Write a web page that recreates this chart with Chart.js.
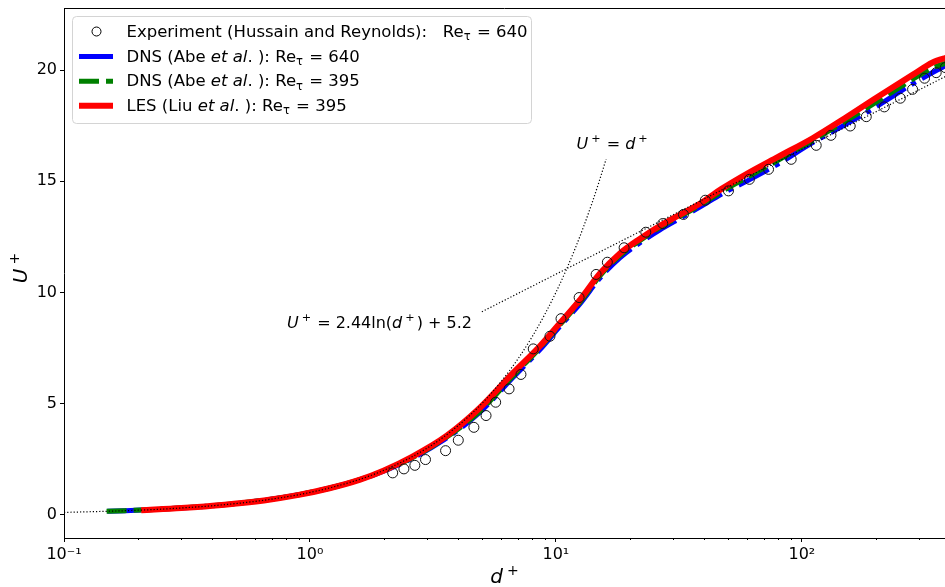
<!DOCTYPE html>
<html>
<head>
<meta charset="utf-8">
<script src="https://cdn.jsdelivr.net/npm/chart.js@4/dist/chart.umd.min.js"></script>
<style>
  html, body { margin: 0; padding: 0; background: #fff; }
  #wrap { width: 945px; height: 587px; }
</style>
</head>
<body>
<div id="wrap"><canvas id="c" width="945" height="587"></canvas></div>
<script>
// Experiment (Hussain and Reynolds), Re_tau = 640
const expD = [2.17, 2.41, 2.67, 2.95, 3.56, 4.01, 4.64, 5.20, 5.69, 6.45, 7.21, 8.09, 9.46, 10.49, 12.43,
              14.57, 16.19, 18.94, 23.2, 27.2, 33.0, 40.5, 50.3, 61.2, 73.2, 90.5, 114.4, 131.3, 157.3,
              182.8, 216.4, 251.4, 282, 315.5, 351.8, 383];
const expU = [1.88, 2.06, 2.22, 2.48, 2.88, 3.35, 3.93, 4.46, 5.06, 5.66, 6.31, 7.46, 8.03, 8.82, 9.77,
              10.81, 11.36, 12.01, 12.71, 13.10, 13.51, 14.15, 14.57, 15.09, 15.54, 15.99, 16.62, 17.07, 17.49,
              17.91, 18.35, 18.74, 19.14, 19.64, 19.89, 20.12];

// DNS (Abe et al.), Re_tau = 640
const dns640D = [0.15, 0.25, 0.4, 0.6, 0.9, 1.3, 1.8, 2.5, 3.5, 4.9, 6.7, 8.6, 10.4, 12.6, 15.1, 18.2,
                 22, 26.5, 32, 38.6, 47, 60, 80, 111, 150, 200, 283, 382, 500, 640];
const dns640U = [0.15, 0.25, 0.4, 0.6, 0.9, 1.29, 1.77, 2.44, 3.36, 4.6, 6.18, 7.42, 8.48, 9.52, 10.65, 11.56,
                 12.24, 12.82, 13.34, 13.85, 14.42, 15.02, 15.78, 16.75, 17.55, 18.35, 19.4, 20.2, 20.9, 21.5];

// DNS (Abe et al.), Re_tau = 395
const dns395D = [0.149, 0.25, 0.4, 0.6, 0.9, 1.3, 1.8, 2.5, 3.5, 4.9, 6.7, 8.6, 10.4, 12.6, 15.1, 18.2,
                 22, 26.5, 32, 38.6, 47, 60, 80, 111, 150, 200, 283, 340, 392];
const dns395U = [0.149, 0.25, 0.4, 0.6, 0.9, 1.29, 1.78, 2.46, 3.4, 4.65, 6.25, 7.5, 8.55, 9.6, 10.75, 11.66,
                 12.34, 12.93, 13.43, 13.93, 14.52, 15.18, 15.95, 16.85, 17.7, 18.55, 19.6, 20.1, 20.35];

// LES (Liu et al.), Re_tau = 395
const lesD = [0.206, 0.3, 0.45, 0.65, 0.9, 1.2, 1.6, 2.0, 2.6, 3.6, 4.9, 6.7, 8.6, 10.4, 12.6, 15.1, 18.2,
              22.0, 26.5, 32.0, 38.6, 47, 60, 80, 111, 150, 200, 283, 340, 395];
const lesU = [0.20, 0.30, 0.45, 0.64, 0.89, 1.19, 1.58, 1.99, 2.60, 3.55, 4.80, 6.38, 7.58, 8.63, 9.7, 10.85,
              11.75, 12.42, 13.0, 13.5, 14.0, 14.65, 15.35, 16.1, 16.95, 17.85, 18.75, 19.8, 20.35, 20.6];

// viscous sublayer U+ = d+
const sublayerD = [0.1, 0.2, 0.3, 0.5, 0.7, 1, 1.5, 2, 3, 4, 5, 6, 7, 8, 9, 10, 11, 12, 13, 14, 15, 16];
const sublayerU = [0.1, 0.2, 0.3, 0.5, 0.7, 1, 1.5, 2, 3, 4, 5, 6, 7, 8, 9, 10, 11, 12, 13, 14, 15, 16];

// log law U+ = 2.44 ln(d+) + 5.2
const logLawD = [5, 400];
const logLawU = [9.13, 19.82];

// axis ticks
const xTicks = [0.1, 1, 10, 100];
const xTickLabels = ['10\u207B\u00B9', '10\u2070', '10\u00B9', '10\u00B2'];
const yTicks = [0, 5, 10, 15, 20];
const yTickLabels = ['0', '5', '10', '15', '20'];

const FONT = '"DejaVu Sans", "Liberation Sans", sans-serif';
const pair = (xs, ys) => xs.map((v, i) => ({ x: v, y: ys[i] }));

// draws a run of plain / italic / superscript / subscript text pieces
function drawRich(ctx, runs, x, y, size) {
  const fontOf = r => (r.i ? 'italic ' : '') + ((r.sup || r.sub) ? (size * 0.7).toFixed(1) : size) + 'px ' + FONT;
  ctx.textAlign = 'left';
  ctx.textBaseline = 'alphabetic';
  let cx = x;
  runs.forEach(r => {
    ctx.font = fontOf(r);
    cx += r.pre || 0;
    const dy = r.sup ? -size * 0.42 : r.sub ? size * 0.22 : 0;
    ctx.fillText(r.t, cx, y + dy);
    cx += ctx.measureText(r.t).width + (r.post || 0);
  });
  return cx;
}

const legendEntries = [
  { ds: 0, runs: [{ t: 'Experiment (Hussain and Reynolds):   Re' }, { t: '\u03C4', sub: 1 }, { t: ' = 640', pre: 1 }] },
  { ds: 5, runs: [{ t: 'DNS (Abe ' }, { t: 'et al', i: 1 }, { t: '. ): Re' }, { t: '\u03C4', sub: 1 }, { t: ' = 640', pre: 1 }] },
  { ds: 4, runs: [{ t: 'DNS (Abe ' }, { t: 'et al', i: 1 }, { t: '. ): Re' }, { t: '\u03C4', sub: 1 }, { t: ' = 395', pre: 1 }] },
  { ds: 3, runs: [{ t: 'LES (Liu ' }, { t: 'et al', i: 1 }, { t: '. ): Re' }, { t: '\u03C4', sub: 1 }, { t: ' = 395', pre: 1 }] }
];

const decor = {
  id: 'decor',
  afterDraw(chart) {
    const { ctx, chartArea: a } = chart;
    const xs = chart.scales.x;
    ctx.save();
    ctx.strokeStyle = '#000';
    ctx.fillStyle = '#000';
    ctx.lineWidth = 1;

    // top spine
    ctx.beginPath();
    ctx.moveTo(a.left, Math.round(a.top) + 0.5);
    ctx.lineTo(a.right, Math.round(a.top) + 0.5);
    ctx.stroke();

    // minor ticks of the log axis
    ctx.beginPath();
    for (let e = -1; e <= 2; e++) {
      for (let k = 2; k <= 9; k++) {
        const v = k * Math.pow(10, e);
        if (v > xs.max) continue;
        const px = Math.round(xs.getPixelForValue(v)) + 0.5;
        ctx.moveTo(px, a.bottom);
        ctx.lineTo(px, a.bottom + 2);
      }
    }
    ctx.stroke();

    // curve annotations
    drawRich(ctx, [{ t: 'U', i: 1 }, { t: '+', sup: 1, pre: 3 }, { t: ' = ', pre: 1 }, { t: 'd', i: 1 }, { t: '+', sup: 1, pre: 3 }],
      576.5, 149, 16);
    drawRich(ctx, [{ t: 'U', i: 1 }, { t: '+', sup: 1, pre: 3 }, { t: ' = 2.44ln(', pre: 1 }, { t: 'd', i: 1 }, { t: '+', sup: 1, pre: 3, post: 2 },
                   { t: ') + 5.2' }], 287, 328, 16);

    // axis titles
    ctx.font = 'italic 20px ' + FONT;
    const dW = ctx.measureText('d').width;
    ctx.font = '14px ' + FONT;
    const pW = ctx.measureText('+').width;
    drawRich(ctx, [{ t: 'd', i: 1 }, { t: '+', sup: 1, pre: 4 }], (a.left + a.right) / 2 - (dW + pW + 4) / 2, 583, 20);
    ctx.save();
    ctx.translate(27, 268);
    ctx.rotate(-Math.PI / 2);
    ctx.font = 'italic 20px ' + FONT;
    const uW = ctx.measureText('U').width;
    drawRich(ctx, [{ t: 'U', i: 1 }, { t: '+', sup: 1, pre: 4 }], -(uW + pW + 4) / 2, 0, 20);
    ctx.restore();

    // legend
    const L = { x: 72.5, y: 16.5, w: 459, h: 107 };
    ctx.save();
    ctx.beginPath();
    ctx.roundRect(L.x, L.y, L.w, L.h, 4);
    ctx.fillStyle = 'rgba(255,255,255,0.8)';
    ctx.fill();
    ctx.strokeStyle = '#d4d4d4';
    ctx.lineWidth = 1;
    ctx.stroke();
    ctx.restore();

    const baselines = [36.5, 61.5, 86.3, 110.8];
    legendEntries.forEach((en, i) => {
      const ds = chart.data.datasets[en.ds];
      const cy = baselines[i] - 5;
      ctx.save();
      if (en.ds === 0) {
        ctx.beginPath();
        ctx.arc(96.5, cy, 4.5, 0, Math.PI * 2);
        ctx.strokeStyle = '#000';
        ctx.lineWidth = 1;
        ctx.stroke();
      } else {
        ctx.beginPath();
        ctx.setLineDash(ds.borderDash || []);
        ctx.strokeStyle = ds.borderColor;
        ctx.lineWidth = ds.borderWidth;
        ctx.moveTo(79, cy);
        ctx.lineTo(113, cy);
        ctx.stroke();
      }
      ctx.restore();
      ctx.fillStyle = '#000';
      drawRich(ctx, en.runs, 126.5, baselines[i], 16.5);
    });

    ctx.restore();
  }
};

new Chart(document.getElementById('c'), {
  type: 'scatter',
  data: {
    datasets: [
      { label: 'Experiment (Hussain and Reynolds): Re_tau = 640', data: pair(expD, expU), showLine: false,
        pointRadius: 5, pointHoverRadius: 5, pointBorderWidth: 1, borderColor: '#000', backgroundColor: 'rgba(0,0,0,0)',
        pointBorderColor: '#111', pointBackgroundColor: 'rgba(0,0,0,0)' },
      { label: 'U+ = d+', data: pair(sublayerD, sublayerU), showLine: true, borderColor: '#000', borderWidth: 1.2,
        borderDash: [1.2, 2], pointRadius: 0, cubicInterpolationMode: 'monotone' },
      { label: 'U+ = 2.44 ln(d+) + 5.2', data: pair(logLawD, logLawU), showLine: true, borderColor: '#000', borderWidth: 1.2,
        borderDash: [1.2, 2], pointRadius: 0 },
      { label: 'LES (Liu et al.): Re_tau = 395', data: pair(lesD, lesU), showLine: true, borderColor: '#ff0000',
        borderWidth: 6, pointRadius: 0, cubicInterpolationMode: 'monotone' },
      { label: 'DNS (Abe et al.): Re_tau = 395', data: pair(dns395D, dns395U), showLine: true, borderColor: '#008000',
        borderWidth: 5, borderDash: [20, 7], pointRadius: 0, cubicInterpolationMode: 'monotone' },
      { label: 'DNS (Abe et al.): Re_tau = 640', data: pair(dns640D, dns640U), showLine: true, borderColor: '#0000ff',
        borderWidth: 5, borderDash: [34, 7, 5, 7], pointRadius: 0, cubicInterpolationMode: 'monotone' }
    ]
  },
  options: {
    responsive: false,
    animation: false,
    devicePixelRatio: 1,
    layout: { autoPadding: false, padding: { top: 8, right: 0, left: 0, bottom: 0 } },
    plugins: { legend: { display: false }, tooltip: { enabled: false } },
    events: [],
    scales: {
      x: {
        type: 'logarithmic', min: 0.1, max: 382, position: 'bottom',
        afterBuildTicks: s => { s.ticks = xTicks.map(v => ({ value: v })); },
        afterFit: s => { s.height = 49; s.paddingLeft = 0; s.paddingRight = 0; },
        ticks: {
          autoSkip: false, maxRotation: 0, padding: 3, color: '#000',
          font: { family: FONT, size: 16 },
          callback: v => { const i = xTicks.indexOf(v); return i >= 0 ? xTickLabels[i] : ''; }
        },
        grid: { drawOnChartArea: false, drawTicks: true, tickLength: 4, tickColor: '#000', tickWidth: 1 },
        border: { display: true, color: '#000', width: 1 }
      },
      y: {
        type: 'linear', min: -1.05, max: 22.8, position: 'left',
        afterBuildTicks: s => { s.ticks = yTicks.map(v => ({ value: v })); },
        afterFit: s => { s.width = 64; s.paddingTop = 0; s.paddingBottom = 0; },
        ticks: {
          padding: 3, color: '#000', font: { family: FONT, size: 16 },
          callback: v => { const i = yTicks.indexOf(v); return i >= 0 ? yTickLabels[i] : ''; }
        },
        grid: { drawOnChartArea: false, drawTicks: true, tickLength: 4, tickColor: '#000', tickWidth: 1 },
        border: { display: true, color: '#000', width: 1 }
      }
    }
  },
  plugins: [decor]
});
</script>
</body>
</html>
